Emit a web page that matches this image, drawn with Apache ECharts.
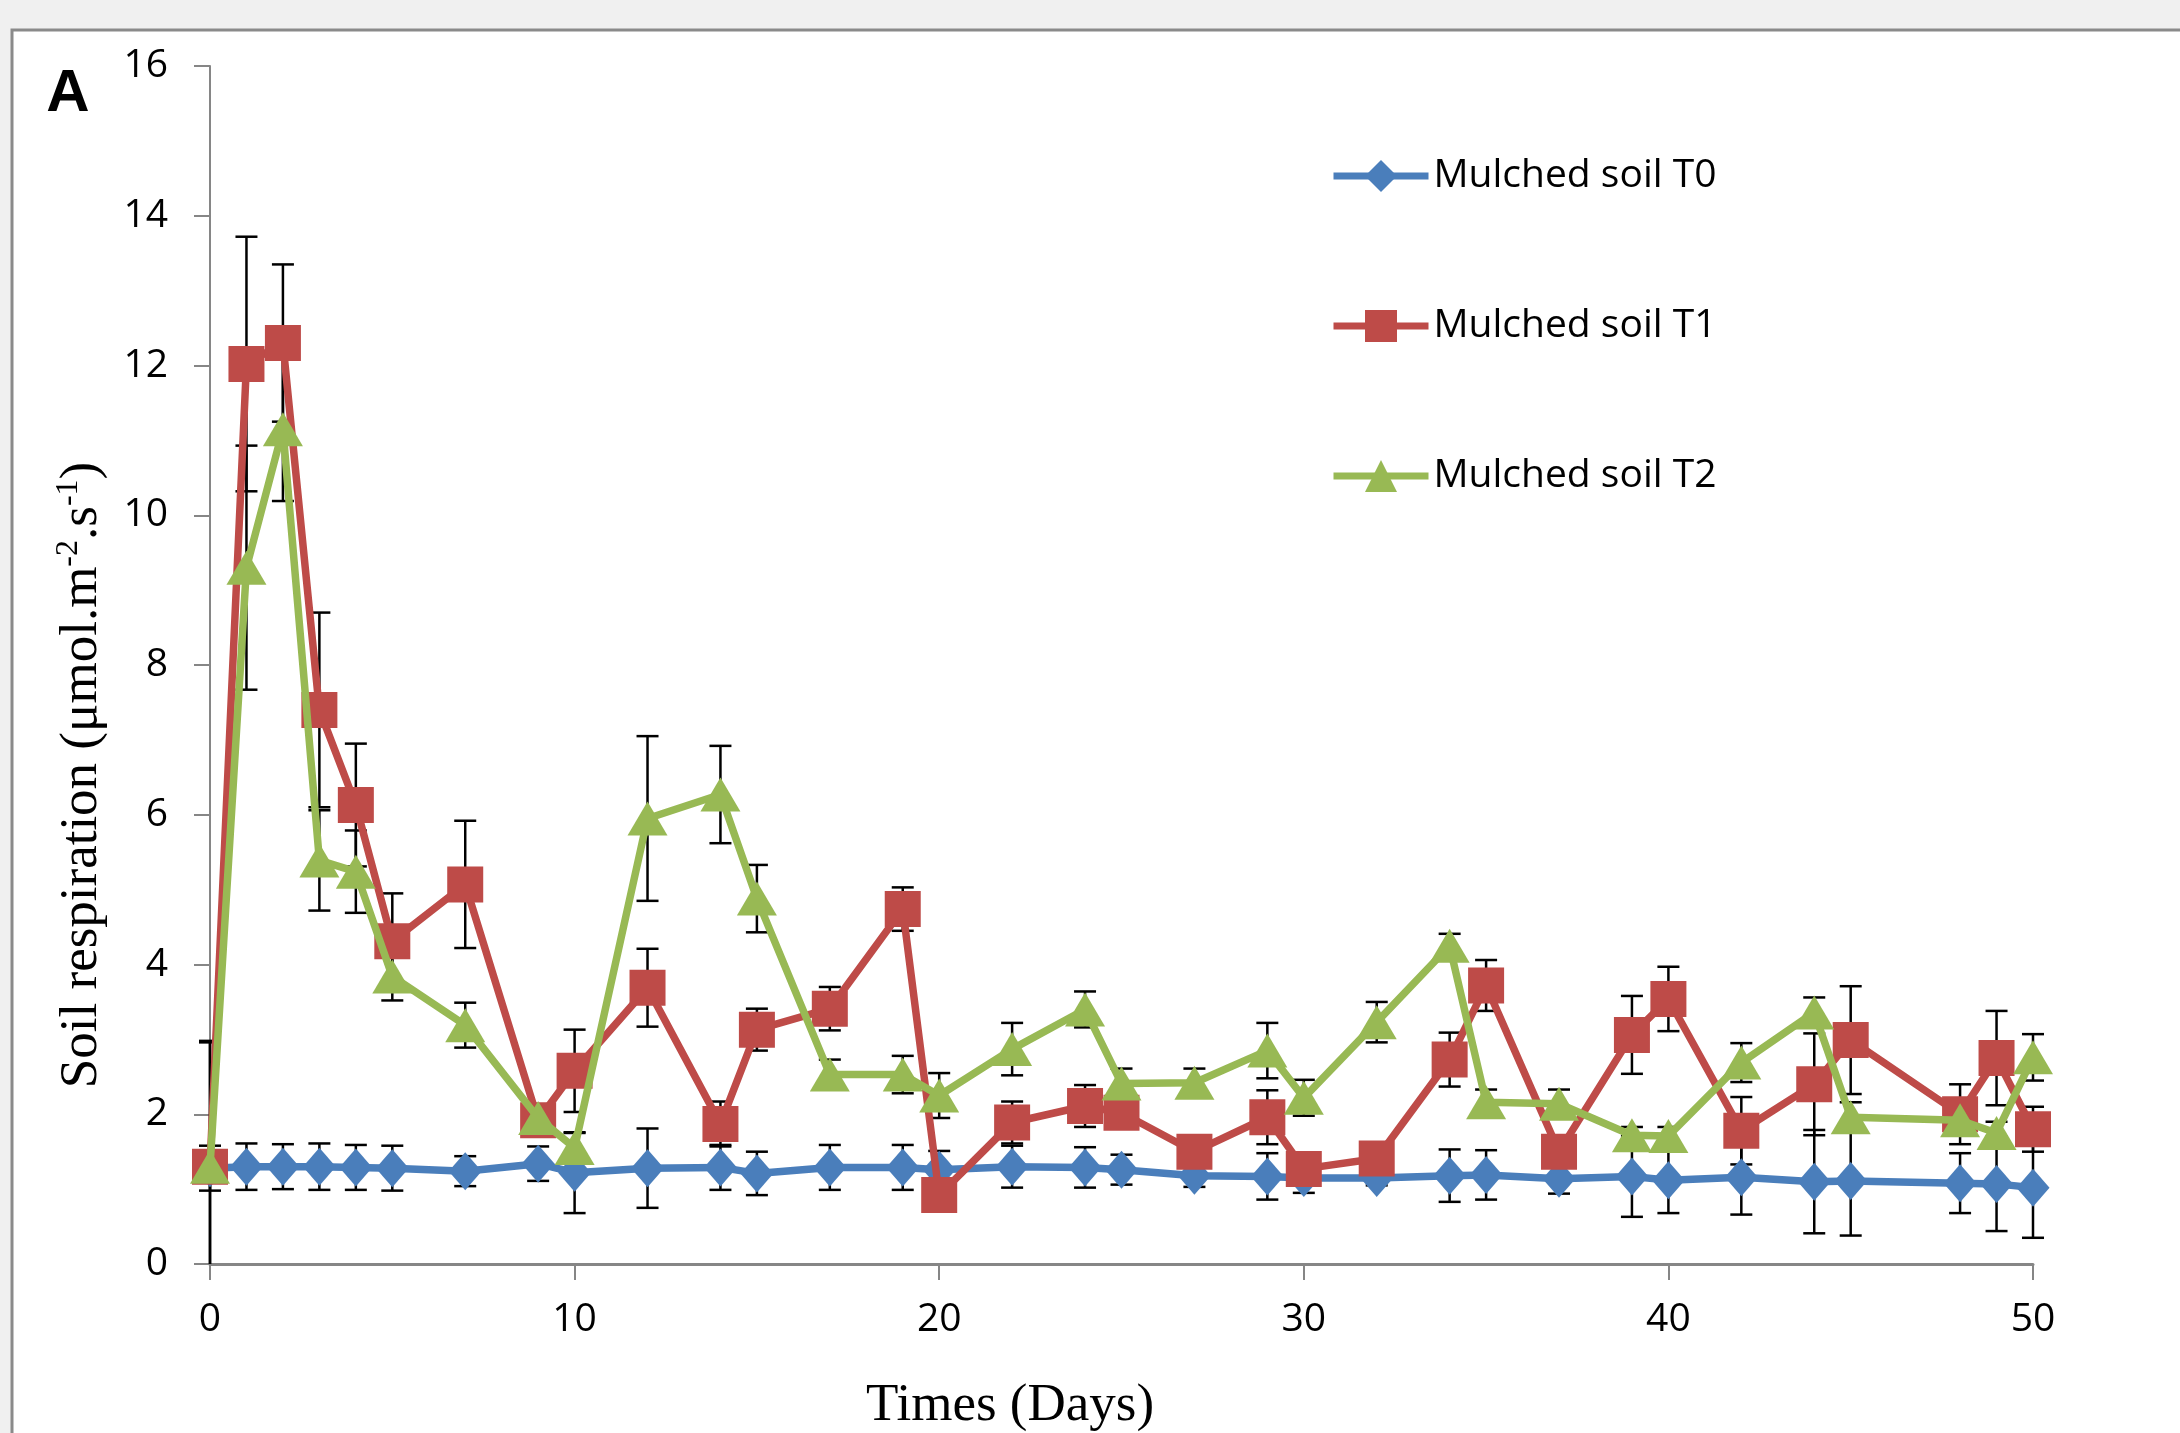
<!DOCTYPE html>
<html>
<head>
<meta charset="utf-8">
<title>Soil respiration</title>
<script src="https://cdn.jsdelivr.net/npm/echarts@6/dist/echarts.min.js"></script>
<style>
  html, body { margin: 0; padding: 0; background: #f0f0f0; }
  #main { width: 2180px; height: 1433px; }
</style>
</head>
<body>
<div id="main"></div>
<script>
// 数据：天数 和 三个处理的呼吸速率 (均值 + 误差)
var days = [0, 1, 2, 3, 4, 5, 7, 9, 10, 12, 14, 15, 17, 19, 20, 22, 24, 25, 27, 29, 30, 32, 34, 35, 37, 39, 40, 42, 44, 45, 48, 49, 50];

var t0 = [1.28, 1.30, 1.30, 1.30, 1.29, 1.28, 1.24, 1.34, 1.22, 1.28, 1.29, 1.21, 1.29, 1.29, 1.26, 1.30, 1.29, 1.26, 1.18, 1.17, 1.15, 1.15, 1.18, 1.19, 1.14, 1.17, 1.12, 1.16, 1.10, 1.11, 1.08, 1.07, 1.02];
var t0Err = [0.3, 0.31, 0.3, 0.31, 0.3, 0.3, 0.2, 0.23, 0.54, 0.53, 0.3, 0.29, 0.3, 0.3, 0.25, 0.28, 0.27, 0.2, 0.15, 0.31, 0.2, 0.1, 0.35, 0.33, 0.2, 0.54, 0.44, 0.5, 0.69, 0.73, 0.4, 0.63, 0.67];

var t1 = [1.3, 12.02, 12.3, 7.4, 6.13, 4.31, 5.07, 1.92, 2.58, 3.69, 1.87, 3.13, 3.41, 4.74, 0.92, 1.89, 2.11, 2.02, 1.5, 1.96, 1.27, 1.41, 2.73, 3.72, 1.5, 3.06, 3.54, 1.78, 2.4, 2.99, 2.0, 2.75, 1.8];
var t1Err = [1.68, 1.7, 1.05, 1.3, 0.82, 0.64, 0.85, 0.2, 0.55, 0.52, 0.3, 0.28, 0.29, 0.29, 0.15, 0.28, 0.28, 0.2, 0.2, 0.36, 0.15, 0.15, 0.36, 0.34, 0.2, 0.52, 0.43, 0.45, 0.68, 0.72, 0.4, 0.63, 0.3];

var t2 = [1.3, 9.3, 11.15, 5.39, 5.24, 3.84, 3.19, 1.95, 1.55, 5.95, 6.27, 4.88, 2.53, 2.53, 2.25, 2.87, 3.4, 2.41, 2.42, 2.85, 2.22, 3.23, 4.25, 2.16, 2.14, 1.72, 1.71, 2.69, 3.36, 1.96, 1.92, 1.75, 2.76];
var t2Err = [1.66, 1.63, 0.96, 0.67, 0.55, 0.32, 0.3, 0.15, 0.2, 1.1, 0.65, 0.45, 0.2, 0.25, 0.3, 0.35, 0.24, 0.2, 0.19, 0.37, 0.24, 0.27, 0.16, 0.17, 0.19, 0.11, 0.12, 0.26, 0.2, 0.2, 0.2, 0.15, 0.31];

var names = ['Mulched soil T0', 'Mulched soil T1', 'Mulched soil T2'];
var xTicks = [0, 10, 20, 30, 40, 50];
var yTicks = [0, 2, 4, 6, 8, 10, 12, 14, 16];

var colors = ['#4a7ebb', '#be4b48', '#98b954'];

function pairs(vals) {
  var out = [];
  for (var i = 0; i < days.length; i++) {
    out.push([days[i], vals[i]]);
  }
  return out;
}

// 误差线数据 [x, 下限, 上限]
function errData(vals, errs) {
  var out = [];
  for (var i = 0; i < days.length; i++) {
    out.push([days[i], vals[i] - errs[i], vals[i] + errs[i]]);
  }
  return out;
}

function renderErr(params, api) {
  var x = api.value(0);
  var lo = api.value(1);
  var hi = api.value(2);
  var top = api.coord([x, hi]);
  var bot = api.coord([x, Math.max(lo, 0)]);
  var half = 11;
  var style = { stroke: '#000', lineWidth: 2.5 };
  var children = [
    { type: 'line', shape: { x1: top[0], y1: top[1], x2: bot[0], y2: bot[1] }, style: style },
    { type: 'line', shape: { x1: top[0] - half, y1: top[1], x2: top[0] + half, y2: top[1] }, style: style }
  ];
  if (lo >= 0) {
    children.push({ type: 'line', shape: { x1: bot[0] - half, y1: bot[1], x2: bot[0] + half, y2: bot[1] }, style: style });
  }
  return { type: 'group', children: children };
}

var chart = echarts.init(document.getElementById('main'));

var axisGrey = '#868686';
var sans = 'Open Sans';
var serif = 'Liberation Serif';
var lw = 7.5;

var option = {
  backgroundColor: '#f0f0f0',
  animation: false,
  grid: { left: 210, right: 147, top: 66, bottom: 169 },
  legend: {
    orient: 'vertical',
    left: 1325,
    top: 151,
    itemWidth: 95,
    itemHeight: 40,
    itemGap: 110,
    data: names,
    lineStyle: { width: 7 },
    textStyle: { fontFamily: sans, fontSize: 39, color: '#000', lineHeight: 40 }
  },
  xAxis: {
    type: 'value',
    min: 0,
    max: 50,
    interval: 10,
    axisLine: { lineStyle: { color: axisGrey, width: 3 } },
    axisTick: { show: true, length: 16, lineStyle: { color: axisGrey, width: 2 } },
    axisLabel: { margin: 36, fontFamily: sans, fontSize: 39, color: '#000',
      formatter: function (v) { return xTicks.indexOf(v) >= 0 ? String(v) : ''; } },
    splitLine: { show: false }
  },
  yAxis: {
    type: 'value',
    min: 0,
    max: 16,
    interval: 2,
    axisLine: { show: true, lineStyle: { color: axisGrey, width: 2 } },
    axisTick: { show: true, length: 16, lineStyle: { color: axisGrey, width: 2 } },
    axisLabel: { margin: 42, fontFamily: sans, fontSize: 39, color: '#000',
      formatter: function (v) { return yTicks.indexOf(v) >= 0 ? String(v) : ''; } },
    splitLine: { show: false }
  },
  graphic: [
    // 白色图框
    { type: 'rect', z: -10, shape: { x: 12, y: 30, width: 2200, height: 1500 },
      style: { fill: '#fff', stroke: '#8a8a8a', lineWidth: 3 } },
    { type: 'text', x: 68, y: 94, z: 10,
      style: { text: 'A', fontFamily: 'Liberation Sans', fontWeight: 'bold', fontSize: 60, fill: '#000', align: 'center', verticalAlign: 'middle' } },
    { type: 'text', x: 1010, y: 1406, z: 10,
      style: { text: 'Times (Days)', fontFamily: serif, fontSize: 53, fill: '#000', align: 'center', verticalAlign: 'middle' } },
    { type: 'text', x: 79, y: 775, rotation: Math.PI / 2, z: 10,
      style: {
        text: '{a|Soil respiration (μmol.m}{s|-2}{a|.s}{s|-1}{a|)}',
        align: 'center', verticalAlign: 'middle',
        rich: {
          a: { fontFamily: serif, fontSize: 53, fill: '#000', lineHeight: 60, verticalAlign: 'bottom' },
          s: { fontFamily: serif, fontSize: 32, fill: '#000', lineHeight: 60, verticalAlign: 'top', padding: [4, 0, 0, 0] }
        }
      } }
  ],
  series: [
    { type: 'custom', name: 'err0', z: 1, renderItem: renderErr, data: errData(t0, t0Err), silent: true },
    { type: 'custom', name: 'err1', z: 1, renderItem: renderErr, data: errData(t1, t1Err), silent: true },
    { type: 'custom', name: 'err2', z: 1, renderItem: renderErr, data: errData(t2, t2Err), silent: true },
    { type: 'line', name: names[0], z: 3, data: pairs(t0), symbol: 'diamond', symbolSize: [33, 38],
      itemStyle: { color: colors[0] }, lineStyle: { color: colors[0], width: lw } },
    { type: 'line', name: names[1], z: 4, data: pairs(t1), symbol: 'rect', symbolSize: [36, 36],
      itemStyle: { color: colors[1] }, lineStyle: { color: colors[1], width: lw } },
    { type: 'line', name: names[2], z: 5, data: pairs(t2), symbol: 'triangle', symbolSize: [40, 34],
      itemStyle: { color: colors[2] }, lineStyle: { color: colors[2], width: lw } }
  ]
};

chart.setOption(option);
</script>
</body>
</html>
